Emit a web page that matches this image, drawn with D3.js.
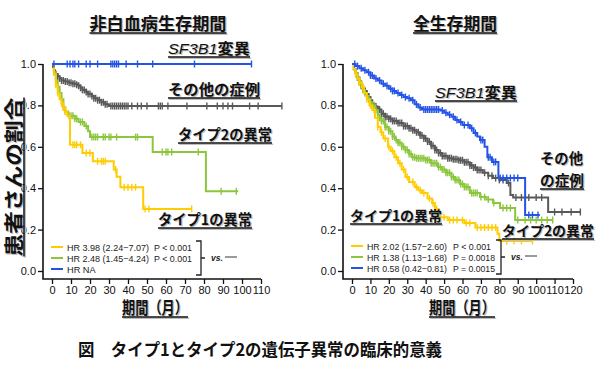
<!DOCTYPE html>
<html><head><meta charset="utf-8">
<script src="https://cdn.jsdelivr.net/npm/d3@7"></script>
<style>
html,body{margin:0;padding:0;background:#fff;}
svg{display:block;}
</style></head>
<body>
<svg id="chart" width="600" height="367"></svg>
<script>
// ---------------- DATA ----------------
const xTicksLeft = [0,10,20,30,40,50,60,70,80,90,100,110];
const xTicksRight = [0,10,20,30,40,50,60,70,80,90,100,110,120];
const yTicks = [0.0,0.2,0.4,0.6,0.8,1.0];

// Left panel: non-leukemia survival. Steps: [month, survival after drop]
const nlfsBlueSteps = [[0,1.0]];
const nlfsBlueEnd = 105;
const nlfsBlueCens = [1,8,9.5,11,12,14,18,20,24,31,32,33,34,35,39,45,53,75,105];

const nlfsGraySteps = [[0,1],[0.5,0.985],[1,0.97],[1.5,0.96],[2,0.95],[3,0.94],[4,0.93],[5,0.92],[7,0.915],[9,0.91],[11,0.905],[13,0.90],[14,0.895],[15,0.885],[16,0.875],[18,0.865],[19,0.855],[21,0.845],[22,0.835],[24,0.825],[26,0.815],[28,0.805],[30,0.797]];
const nlfsGrayEnd = 121;
const nlfsGrayCens = [2,3,4,5,6,7,8,9,10,11,12,13,14,15,16,17,18,19,20,21,22,23,24,25,26,27,28,29,31,32,33,34,35,36,37,38,39,40,42,45,47,50,56,57,58,61,71,81.5,87,90,92.6,95,104,108.5,121];

const nlfsGreenSteps = [[0,1],[1,0.96],[2,0.92],[3,0.89],[4,0.86],[5,0.83],[6,0.79],[7,0.77],[8.5,0.75],[12,0.735],[14,0.72],[17,0.70],[19,0.675],[20,0.647],[53,0.575],[81,0.385]];
const nlfsGreenEnd = 98;
const nlfsGreenCens = [1,2,3,4,5,6,7,9,10,11,12,13,15,16,18,21,22,23,24,27,28,30,31,34,44,45,58,60,61,63,77,89,97];

const nlfsYellowSteps = [[0,1],[1,0.95],[2,0.9],[3,0.86],[4,0.83],[5,0.81],[6,0.79],[7,0.77],[8,0.75],[9.5,0.61],[16,0.57],[21.5,0.53],[32.5,0.49],[34,0.455],[36,0.405],[48,0.30]];
const nlfsYellowEnd = 73.5;
const nlfsYellowCens = [2,3,5,6,7,11,12,13,15,18,20,24,26,27,28,33.5,38,40,42,44,49,51,73.5];

// Right panel: overall survival
const osBlueSteps = [[0,1.0],[2,0.99],[4,0.98],[6,0.97],[8,0.96],[10,0.945],[12,0.93],[14,0.92],[16,0.905],[18,0.895],[20,0.88],[22,0.87],[24,0.86],[26,0.85],[28,0.84],[30,0.835],[32,0.825],[34,0.805],[36,0.79],[38,0.78],[48,0.775],[50,0.765],[52,0.755],[54,0.745],[56,0.73],[58,0.72],[60,0.705],[64,0.69],[66,0.667],[68,0.65],[69.5,0.633],[72,0.60],[73.5,0.55],[76,0.527],[79.5,0.449],[94,0.27]];
const osBlueEnd = 102;
const osBlueCens = [1.5,3,5,7,9,10,11,13,15,17,19,21,22,23,25,27,29,31,33,35,37,39,40,41,42,43,44,45,46,47,49,51,53,55,57,59,61,63,65,67,70,71,74,75,77,78,80.5,82,84,86,88,90,96,98,101];

const osGraySteps = [[0,1.0],[1,0.975],[2,0.955],[3,0.935],[4,0.915],[5,0.895],[6,0.88],[7,0.87],[8,0.855],[9,0.84],[10,0.825],[11,0.81],[12,0.795],[14,0.78],[16,0.76],[18,0.745],[20,0.735],[22,0.725],[25,0.715],[28,0.70],[31,0.69],[33,0.68],[35,0.67],[37,0.655],[39,0.64],[41,0.625],[43,0.605],[45,0.585],[47,0.57],[49,0.555],[52,0.545],[55,0.54],[58,0.535],[61,0.525],[64,0.51],[66,0.50],[68,0.488],[71,0.475],[74,0.46],[76.6,0.449],[80,0.44],[84,0.425],[86,0.367],[87.5,0.355],[106.5,0.285]];
const osGrayEnd = 124;
const osGrayCens = [2,3,4,5,6,7,8,9,10,11,12,13,14,15,16,17,18,19,20,21,22,23,24,25,26,27,28,29,30,31,32,33,34,35,36,37,38,39,40,41,42,43,44,45,46,47,48,49,50,51,52,53,54,55,56,57,58,59,60,61,62,63,64,65,66,67,68,69,70,72,74,76,78,80,82,85,89,92,96,100,103,110,114,119,124];

const osGreenSteps = [[0,1.0],[1,0.975],[2,0.955],[3,0.935],[4,0.915],[5,0.895],[6,0.875],[7,0.86],[8,0.845],[9,0.83],[10,0.815],[11,0.80],[12.5,0.778],[14,0.755],[15,0.74],[16,0.725],[18,0.696],[20,0.675],[22,0.65],[23.5,0.633],[25,0.62],[27,0.60],[29,0.585],[31,0.565],[32.6,0.55],[35,0.545],[40,0.536],[43,0.52],[46.7,0.502],[49,0.49],[51,0.475],[54,0.454],[56,0.44],[58.7,0.42],[61,0.406],[64,0.377],[69.5,0.357],[73,0.345],[76.6,0.328],[80.4,0.304],[88.6,0.246]];
const osGreenEnd = 109;
const osGreenCens = [2,3,4,5,6,7,8,9,10,11,12,13,14,15,16,17,18,19,20,21,22,23,24,25,26,27,28,29,30,31,32,33,34,35,36,37,38,39,40,41,42,43,44,45,46,47,48,49,50,51,52,53,54,55,56,57,58,59,60,61,62,63,65,66,67,68,70,72,74,77,82,84,86,90,94,97,100,103,106,109];

const osYellowSteps = [[0,1.0],[1,0.975],[2,0.95],[3,0.93],[4,0.91],[5.4,0.89],[6.5,0.86],[8,0.83],[9.5,0.80],[11,0.778],[12.5,0.74],[14,0.696],[15.5,0.67],[17,0.64],[19.6,0.60],[21,0.58],[23,0.55],[25,0.52],[27,0.49],[29,0.454],[31,0.43],[34,0.406],[36,0.39],[38,0.377],[41,0.35],[43.5,0.328],[45,0.30],[47,0.26],[52,0.246],[61,0.232],[67,0.21],[79,0.18],[80,0.145]];
const osYellowEnd = 98;
const osYellowCens = [2,4,6,8,10,12,14,16,18,20,22,24,26,28,30,33,35,37,39,42,44,46,48,50,53,55,57,60,62,64,68,70,72,74,76,78,84,88,92,98];

const legendLeft = [
  {hr:"HR 3.98 (2.24\u22127.07)", p:"P < 0.001", key:"yellow"},
  {hr:"HR 2.48 (1.45\u22124.24)", p:"P < 0.001", key:"green"},
  {hr:"HR NA", p:"", key:"blue"}
];
const legendRight = [
  {hr:"HR 2.02 (1.57\u22122.60)", p:"P < 0.001", key:"yellow"},
  {hr:"HR 1.38 (1.13\u22121.68)", p:"P = 0.0018", key:"green"},
  {hr:"HR 0.58 (0.42\u22120.81)", p:"P = 0.0015", key:"blue"}
];

// ---------------- STYLE ----------------
const COLORS = {yellow:"#ffcc00", green:"#8cc63f", blue:"#2454e6", gray:"#595959"};
const FONT_JP = "'Noto Sans CJK JP','Noto Sans',sans-serif";
const FONT_NUM = "'Liberation Sans',Arial,sans-serif";

const svg = d3.select("#chart");
const yScale = d3.scaleLinear().domain([0,1]).range([271,64]);

function survAt(steps, t){
  let s = steps[0][1];
  for (const [ti, si] of steps) { if (ti <= t) s = si; else break; }
  return s;
}

function drawPanel(cfg){
  const g = svg.append("g");
  const x = d3.scaleLinear().domain(cfg.domain).range(cfg.range);
  const axX = cfg.axisX, axY = 279;
  const yAxis = d3.axisLeft(yScale).tickValues(yTicks).tickFormat(d3.format(".1f")).tickSize(5).tickPadding(2);
  const ya = g.append("g").attr("transform",`translate(${axX},0)`).call(yAxis);
  ya.select(".domain").remove();
  ya.selectAll("text").attr("font-family",FONT_NUM).attr("font-size",11).attr("fill","#111");
  ya.selectAll("line").attr("stroke","#111").attr("stroke-width",1.3);
  const xAxis = d3.axisBottom(x).tickValues(cfg.ticks).tickSize(5).tickPadding(2);
  const xa = g.append("g").attr("transform",`translate(0,${axY})`).call(xAxis);
  xa.select(".domain").remove();
  xa.selectAll("text").attr("font-family",FONT_NUM).attr("font-size",11).attr("fill","#111");
  xa.selectAll("line").attr("stroke","#111").attr("stroke-width",1.3);
  g.append("path").attr("d",`M${axX},${yScale(1)}V${axY}H${x(cfg.ticks[cfg.ticks.length-1])}`)
    .attr("fill","none").attr("stroke","#111").attr("stroke-width",1.6);

  const line = d3.line().x(d=>x(d[0])).y(d=>yScale(d[1])).curve(d3.curveStepAfter);
  for (const c of cfg.curves){
    const pts = c.steps.concat([[c.end, c.steps[c.steps.length-1][1]]]);
    g.append("path").attr("d",line(pts)).attr("fill","none")
      .attr("stroke",COLORS[c.key]).attr("stroke-width",2);
    g.append("g").selectAll("line").data(c.cens).join("line")
      .attr("x1",d=>x(d)).attr("x2",d=>x(d))
      .attr("y1",d=>yScale(survAt(c.steps,d))-3.5)
      .attr("y2",d=>yScale(survAt(c.steps,d))+3.5)
      .attr("stroke",COLORS[c.key]).attr("stroke-width",1.4);
  }
}

drawPanel({domain:[0,110], range:[52,261], axisX:43, ticks:xTicksLeft, curves:[
  {key:"gray", steps:nlfsGraySteps, end:nlfsGrayEnd, cens:nlfsGrayCens},
  {key:"green", steps:nlfsGreenSteps, end:nlfsGreenEnd, cens:nlfsGreenCens},
  {key:"yellow", steps:nlfsYellowSteps, end:nlfsYellowEnd, cens:nlfsYellowCens},
  {key:"blue", steps:nlfsBlueSteps, end:nlfsBlueEnd, cens:nlfsBlueCens}
]});
drawPanel({domain:[0,120], range:[352,573], axisX:343, ticks:xTicksRight, curves:[
  {key:"gray", steps:osGraySteps, end:osGrayEnd, cens:osGrayCens},
  {key:"green", steps:osGreenSteps, end:osGreenEnd, cens:osGreenCens},
  {key:"yellow", steps:osYellowSteps, end:osYellowEnd, cens:osYellowCens},
  {key:"blue", steps:osBlueSteps, end:osBlueEnd, cens:osBlueCens}
]});

// ---------------- TEXT ----------------
// x: left edge (or centre for anchor middle), y: baseline, w: rendered width
function label(parts, x, y, w, opts={}){
  const size = opts.size || 15;
  const anchor = opts.anchor || "start";
  const rot = opts.rotate || 0;
  const mk = (dx, dy, fill) => {
    const t = svg.append("text")
      .attr("transform",`translate(${x+dx},${y+dy}) rotate(${rot})`)
      .attr("text-anchor",anchor).attr("font-size",size).attr("fill",fill)
      .attr("textLength",w).attr("lengthAdjust","spacingAndGlyphs");
    for (const p of parts){
      t.append("tspan").text(p.t)
        .attr("font-family", p.it ? FONT_NUM : FONT_JP)
        .attr("font-style", p.it ? "italic" : "normal")
        .attr("font-weight", p.it ? 400 : 700);
    }
    return t;
  };
  const sh = 1.2;
  if (opts.shadow !== false) mk(sh,sh,"#bdbdbd");
  if (opts.underline !== false){
    const x0 = anchor==="middle" ? -w/2 : 0;
    const ul = (dx,dy,col) => svg.append("line")
      .attr("transform",`translate(${x+dx},${y+dy}) rotate(${rot})`)
      .attr("x1",x0).attr("x2",x0+w).attr("y1",3).attr("y2",3)
      .attr("stroke",col).attr("stroke-width",1.5);
    if (opts.shadow !== false) ul(sh,sh,"#bdbdbd");
    ul(0,0,"#111");
  }
  mk(0,0,"#111");
}

// titles
label([{t:"非白血病生存期間"}], 158, 30, 137, {size:17, anchor:"middle"});
label([{t:"全生存期間"}], 455, 30, 84, {size:17, anchor:"middle"});
// axis labels
label([{t:"患者さんの割合"}], 21, 177, 159, {size:19, anchor:"middle", rotate:-90});
label([{t:"期間（月）"}], 155, 314, 66, {size:16.5, anchor:"middle"});
label([{t:"期間（月）"}], 462, 314, 66, {size:16.5, anchor:"middle"});

// annotations left
label([{t:"SF3B1",it:true},{t:"変異"}], 168, 54, 82, {size:15});
label([{t:"その他の症例"}], 168, 95, 92, {size:15});
label([{t:"タイプ2の異常"}], 178, 140, 94, {size:14.3});
label([{t:"タイプ1の異常"}], 158, 225, 94, {size:14.3});
// annotations right
label([{t:"SF3B1",it:true},{t:"変異"}], 435, 98, 82, {size:15});
label([{t:"その他"}], 540, 164, 43, {size:14.5, underline:false});
label([{t:"の症例"}], 540, 186, 44, {size:14.5});
label([{t:"タイプ1の異常"}], 350, 221, 92, {size:14});
label([{t:"タイプ2の異常"}], 502, 236, 92, {size:14});

// caption
svg.append("text").attr("x",260).attr("y",356).attr("text-anchor","middle")
  .attr("font-family",FONT_JP).attr("font-weight",700).attr("font-size",17).attr("fill","#111")
  .attr("textLength",364).attr("lengthAdjust","spacingAndGlyphs")
  .text("図　タイプ1とタイプ2の遺伝子異常の臨床的意義");

// ---------------- LEGENDS ----------------
function legend(rows, x0, y0, pX, bx, hrW, pW){
  const g = svg.append("g");
  rows.forEach((r,i)=>{
    const y = y0 + i*11;
    g.append("line").attr("x1",x0).attr("x2",x0+12).attr("y1",y).attr("y2",y)
      .attr("stroke",COLORS[r.key]).attr("stroke-width",2);
    const t = g.append("text").attr("x",x0+16).attr("y",y+3.5).attr("font-family",FONT_NUM)
      .attr("font-size",9.2).attr("fill","#222").text(r.hr);
    if (r.hr.length > 8) t.attr("textLength",hrW).attr("lengthAdjust","spacingAndGlyphs");
    if (r.p) g.append("text").attr("x",pX).attr("y",y+3.5).attr("font-family",FONT_NUM)
      .attr("font-size",9.2).attr("fill","#222").text(r.p)
      .attr("textLength", r.p.length > 9 ? pW+4 : pW).attr("lengthAdjust","spacingAndGlyphs");
  });
  const top = y0-6, bot = y0+2*11+6, mid = y0+11;
  g.append("path").attr("d",`M${bx-5},${top}H${bx}V${bot}H${bx-5}M${bx},${mid}H${bx+4}`)
    .attr("fill","none").attr("stroke","#222").attr("stroke-width",1.3);
  g.append("text").attr("x",bx+10).attr("y",mid+3).attr("font-family",FONT_NUM)
    .attr("font-size",8.5).attr("font-style","italic").attr("font-weight",700).attr("fill","#222").text("vs.");
  g.append("line").attr("x1",bx+24).attr("x2",bx+36).attr("y1",mid-1).attr("y2",mid-1)
    .attr("stroke","#9a9a9a").attr("stroke-width",2);
}
legend(legendLeft, 51, 247, 154, 201, 82, 38);
legend(legendRight, 351, 246, 453, 501, 80, 38);
</script>
</body></html>
